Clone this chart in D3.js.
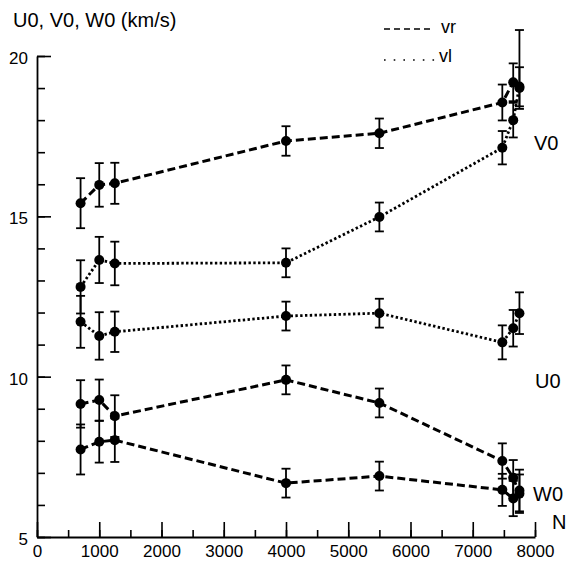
<!DOCTYPE html>
<html><head><meta charset="utf-8">
<script src="https://cdn.jsdelivr.net/npm/d3@7"></script>
<style>body{margin:0;background:#fff}svg{display:block}text{font-family:"Liberation Sans",Arial,Helvetica,sans-serif;fill:#000}</style>
</head><body>
<svg id="c" width="567" height="568"></svg>
<script>
// ---- data ----
const N = [700, 1000, 1250, 4000, 5500, 7475, 7650, 7750];
const V0vr    = [15.41, 15.98, 16.03, 17.35, 17.59, 18.55, 19.18, 19.00];
const V0vrErr = [0.78, 0.68, 0.64, 0.46, 0.46, 0.56, 0.59, 0.65];
const V0vl    = [12.80, 13.64, 13.53, 13.55, 14.98, 17.14, 18.00, 19.05];
const V0vlErr = [0.83, 0.72, 0.68, 0.45, 0.45, 0.52, 0.54, 0.62];
const V0vlErrUp = [0.83, 0.72, 0.68, 0.45, 0.45, 0.52, 0.54, 1.76];
const U0vr    = [9.15, 9.27, 8.77, 9.90, 9.18, 7.37, 6.85, 6.35];
const U0vrErr = [0.74, 0.64, 0.65, 0.45, 0.45, 0.55, 0.55, 0.60];
const U0vl    = [11.71, 11.27, 11.40, 11.89, 11.98, 11.07, 11.51, 11.98];
const U0vlErr = [0.81, 0.74, 0.63, 0.45, 0.45, 0.53, 0.57, 0.65];
const W0vr    = [7.73, 7.97, 8.02, 6.68, 6.90, 6.47, 6.20, 6.45];
const W0vrErr = [0.78, 0.65, 0.68, 0.45, 0.45, 0.50, 0.55, 0.65];
const xMajor = [0, 1000, 2000, 3000, 4000, 5000, 6000, 7000, 8000];
const xMinor = d3.range(0, 8001, 500);
const yMajor = [5, 10, 15, 20];
const yMinor = d3.range(5, 21, 1);
const seriesLabels = ["V0", "U0", "W0"];
const legendLabels = ["vr", "vl"];

const series = [
  {v: V0vr, lo: V0vrErr, hi: V0vrErr, style: "dash"},
  {v: V0vl, lo: V0vlErr, hi: V0vlErrUp, style: "dot"},
  {v: U0vr, lo: U0vrErr, hi: U0vrErr, style: "dash"},
  {v: U0vl, lo: U0vlErr, hi: U0vlErr, style: "dot"},
  {v: W0vr, lo: W0vrErr, hi: W0vrErr, style: "dash"}
];

const svg = d3.select("#c");
const x = d3.scaleLinear().domain([0, 8000]).range([37, 535]);
const y = d3.scaleLinear().domain([5, 20]).range([537, 56]);

// axes
const gx = svg.append("g").attr("transform", "translate(0,537)");
gx.call(d3.axisBottom(x).tickValues(xMinor).tickSize(-7).tickSizeOuter(0).tickFormat(""));
gx.selectAll(".tick line").attr("stroke-width", 1.6);
gx.select(".domain").attr("stroke-width", 1.8);
const gx2 = svg.append("g").attr("transform", "translate(0,537)");
gx2.call(d3.axisBottom(x).tickValues(xMajor).tickSize(-15).tickSizeOuter(0).tickPadding(8).tickFormat(d3.format("d")));
gx2.select(".domain").remove();
gx2.selectAll(".tick line").attr("stroke-width", 1.6);
gx2.selectAll(".tick text").attr("font-size", 17).attr("font-family", "Liberation Sans, Arial, sans-serif");

const gy = svg.append("g").attr("transform", "translate(37,0)");
gy.call(d3.axisLeft(y).tickValues(yMinor).tickSize(-8).tickSizeOuter(0).tickFormat(""));
gy.selectAll(".tick line").attr("stroke-width", 1.6);
gy.select(".domain").attr("stroke-width", 1.8);
const gy2 = svg.append("g").attr("transform", "translate(37,0)");
gy2.call(d3.axisLeft(y).tickValues(yMajor).tickSize(-14).tickSizeOuter(0).tickPadding(9).tickFormat(d3.format("d")));
gy2.select(".domain").remove();
gy2.selectAll(".tick line").attr("stroke-width", 1.6);
gy2.selectAll(".tick text").attr("font-size", 17).attr("font-family", "Liberation Sans, Arial, sans-serif").attr("dy", "0.45em");

// lines
const line = d3.line().x((d, i) => x(N[i])).y(d => y(d));
series.forEach(s => {
  svg.append("path").attr("d", line(s.v)).attr("fill", "none").attr("stroke", "#000")
    .attr("stroke-width", s.style === "dash" ? 3 : 2.8)
    .attr("stroke-dasharray", s.style === "dash" ? "8,4" : "2.4,2.4");
});

// error bars + points
series.forEach(s => {
  const g = svg.append("g");
  s.v.forEach((v, i) => {
    const cx = x(N[i]), y1 = y(v + s.hi[i]), y0 = y(v - s.lo[i]);
    g.append("line").attr("x1", cx).attr("x2", cx).attr("y1", y1).attr("y2", y0).attr("stroke", "#000").attr("stroke-width", 1.8);
    [y1, y0].forEach(yy => g.append("line").attr("x1", cx - 4.5).attr("x2", cx + 4.5).attr("y1", yy).attr("y2", yy).attr("stroke", "#000").attr("stroke-width", 1.8));
  });
  g.selectAll("circle").data(s.v).join("circle").attr("cx", (d, i) => x(N[i])).attr("cy", d => y(d)).attr("r", 5).attr("fill", "#000");
});

// labels
svg.append("text").attr("x", 13).attr("y", 27).attr("font-size", 20).text("U0, V0, W0 (km/s)");
svg.append("text").attr("x", 534).attr("y", 150).attr("font-size", 20).text(seriesLabels[0]);
svg.append("text").attr("x", 535).attr("y", 388).attr("font-size", 20).text(seriesLabels[1]);
svg.append("text").attr("x", 533).attr("y", 501).attr("font-size", 20).text(seriesLabels[2]);
svg.append("text").attr("x", 552).attr("y", 529).attr("font-size", 20).text("N");

// legend
svg.append("line").attr("x1", 384).attr("x2", 434).attr("y1", 29).attr("y2", 29).attr("stroke", "#000").attr("stroke-width", 1.3).attr("stroke-dasharray", "6,4");
svg.append("text").attr("x", 441).attr("y", 33).attr("font-size", 18).text(legendLabels[0]);
svg.append("line").attr("x1", 384).attr("x2", 436).attr("y1", 60).attr("y2", 60).attr("stroke", "#000").attr("stroke-width", 1.6).attr("stroke-dasharray", "1.6,8.1");
svg.append("text").attr("x", 439).attr("y", 62).attr("font-size", 18).text(legendLabels[1]);
</script>
</body></html>
